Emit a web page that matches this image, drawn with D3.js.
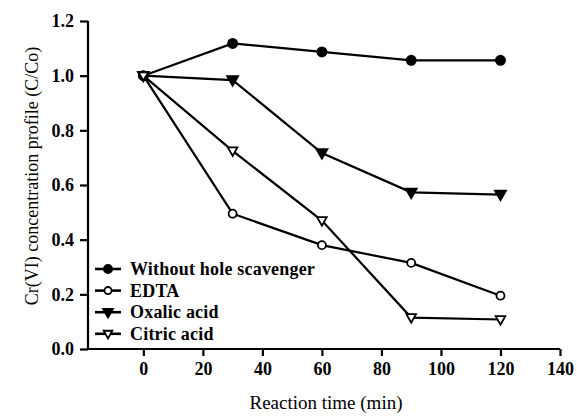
<!DOCTYPE html>
<html>
<head>
<meta charset="utf-8">
<script src="https://cdn.jsdelivr.net/npm/d3@7"></script>
<style>
  body { margin: 0; background: #fff; }
  svg text { font-family: "Liberation Serif", "DejaVu Serif", serif; fill: #000; }
</style>
</head>
<body>
<div id="chart"></div>
<script>
const times = [0, 30, 60, 90, 120];
const withoutScavenger = [1.0, 1.118, 1.087, 1.056, 1.056];
const edta = [1.0, 0.495, 0.38, 0.315, 0.195];
const oxalicAcid = [1.0, 0.984, 0.717, 0.573, 0.565];
const citricAcid = [1.0, 0.725, 0.47, 0.115, 0.108];
const seriesNames = ["Without hole scavenger", "EDTA", "Oxalic acid", "Citric acid"];
const xTicks = [0, 20, 40, 60, 80, 100, 120, 140];
const yTicks = [0.0, 0.2, 0.4, 0.6, 0.8, 1.0, 1.2];

const width = 577, height = 416;
const plot = {left: 88, right: 560, top: 21, bottom: 349};
const serif = '"Liberation Serif", "DejaVu Serif", serif';

const svg = d3.select("#chart").append("svg")
    .attr("width", width)
    .attr("height", height);

const x = d3.scaleLinear().domain([-18.6, 140]).range([plot.left, plot.right]);
const y = d3.scaleLinear().domain([0, 1.2]).range([plot.bottom, plot.top]);

// axes
const xAxis = svg.append("g")
    .attr("transform", `translate(0, ${plot.bottom})`)
    .call(d3.axisBottom(x).tickValues(xTicks).tickSize(7).tickSizeOuter(0).tickPadding(6).tickFormat(d3.format("d")));
const yAxis = svg.append("g")
    .attr("transform", `translate(${plot.left}, 0)`)
    .call(d3.axisLeft(y).tickValues(yTicks).tickSize(8).tickSizeOuter(0).tickPadding(6).tickFormat(d3.format(".1f")));

[xAxis, yAxis].forEach(g => {
    g.attr("font-family", serif);
    g.select(".domain").attr("stroke", "#000").attr("stroke-width", 2.2);
    g.selectAll(".tick line").attr("stroke", "#000").attr("stroke-width", 2.2);
    g.selectAll(".tick text")
        .attr("font-size", "18px")
        .attr("font-weight", "bold")
        .attr("font-family", serif);
});
// extend x axis line back to the y axis
xAxis.select(".domain").attr("d", `M${plot.left},0H${plot.right}`);
yAxis.select(".domain").attr("d", `M0,${plot.top}V${plot.bottom + 1}`);

// axis titles
svg.append("text")
    .attr("x", 326)
    .attr("y", 409)
    .attr("text-anchor", "middle")
    .attr("font-size", "19px")
    .attr("font-family", serif)
    .text("Reaction time (min)");

svg.append("text")
    .attr("transform", `translate(38, 176) rotate(-90)`)
    .attr("text-anchor", "middle")
    .attr("font-size", "18px")
    .attr("font-family", serif)
    .text("Cr(VI) concentration profile (C/Co)");

// series
const allSeries = [
    {name: seriesNames[0], values: withoutScavenger, marker: "circle", fill: "#000"},
    {name: seriesNames[1], values: edta, marker: "circle", fill: "#fff"},
    {name: seriesNames[2], values: oxalicAcid, marker: "triangle", fill: "#000"},
    {name: seriesNames[3], values: citricAcid, marker: "triangle", fill: "#fff"}
];

const line = d3.line().x((d, i) => x(times[i])).y(d => y(d));

function drawMarker(g, s, cx, cy, scale) {
    if (s.marker === "circle") {
        g.append("circle")
            .attr("cx", cx).attr("cy", cy)
            .attr("r", s.fill === "#000" ? 4.6 * scale : 4 * scale)
            .attr("fill", s.fill)
            .attr("stroke", "#000")
            .attr("stroke-width", 1.8);
    } else {
        const w = (s.fill === "#000" ? 5.5 : 4.8) * scale;
        const h = (s.fill === "#000" ? 9.5 : 8.5) * scale;
        g.append("path")
            .attr("d", `M${cx - w},${cy - h * 0.4}L${cx + w},${cy - h * 0.4}L${cx},${cy + h * 0.6}Z`)
            .attr("fill", s.fill)
            .attr("stroke", "#000")
            .attr("stroke-width", 1.8)
            .attr("stroke-linejoin", "miter");
    }
}

allSeries.forEach(s => {
    svg.append("path")
        .datum(s.values)
        .attr("fill", "none")
        .attr("stroke", "#000")
        .attr("stroke-width", 2.2)
        .attr("d", line);
});
allSeries.forEach(s => {
    const g = svg.append("g");
    s.values.forEach((v, i) => drawMarker(g, s, x(times[i]), y(v), 1));
});

// legend
const legend = svg.append("g");
allSeries.forEach((s, i) => {
    const ly = 269 + i * 21.6;
    legend.append("line")
        .attr("x1", 95).attr("x2", 121)
        .attr("y1", ly).attr("y2", ly)
        .attr("stroke", "#000")
        .attr("stroke-width", 2.6);
    drawMarker(legend, s, 108, ly, 0.9);
    legend.append("text")
        .attr("x", 130)
        .attr("y", ly + 6)
        .attr("font-size", "18px")
        .attr("font-weight", "bold")
        .attr("letter-spacing", "0.2px")
        .attr("font-family", serif)
        .text(s.name);
});
</script>
</body>
</html>
